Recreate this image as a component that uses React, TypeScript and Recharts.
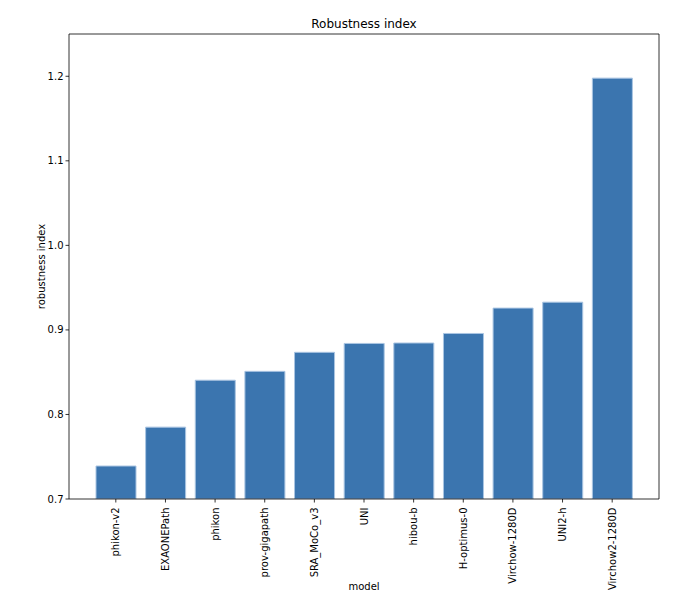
import React from "react";
import { BarChart, Bar, XAxis, YAxis, CartesianGrid } from "recharts";

const models = [
  "phikon-v2",
  "EXAONEPath",
  "phikon",
  "prov-gigapath",
  "SRA_MoCo_v3",
  "UNI",
  "hibou-b",
  "H-optimus-0",
  "Virchow-1280D",
  "UNI2-h",
  "Virchow2-1280D",
];

const robustness = [0.739, 0.785, 0.8405, 0.851, 0.8735, 0.884, 0.8845, 0.8958, 0.9258, 0.9328, 1.1978];

const yTicks = [0.7, 0.8, 0.9, 1.0, 1.1, 1.2];

const data = models.map((model, i) => ({ model, value: robustness[i] }));

const FONT = "'DejaVu Sans', sans-serif";

function RotatedTick(props: any) {
  const { x, y, payload } = props;
  return (
    <text
      x={0}
      y={0}
      dy="0.35em"
      transform={`translate(${x},${y + 3}) rotate(-90)`}
      textAnchor="end"
      fontSize={10}
      fontFamily={FONT}
      fill="#000"
    >
      {payload.value}
    </text>
  );
}

export default function App() {
  return (
    <div style={{ position: "absolute", left: 0, top: 0, width: 682, height: 614, background: "#fff" }}>
      <div
        style={{
          position: "absolute",
          left: 69,
          width: 590,
          top: 17,
          textAlign: "center",
          fontFamily: FONT,
          fontSize: 12,
          lineHeight: "14px",
          color: "#000",
        }}
      >
        Robustness index
      </div>
      <BarChart
        width={682}
        height={614}
        data={data}
        margin={{ top: 34, right: 23, bottom: 20, left: 29 }}
      >
        {/* closes the box on the top and right, like a matplotlib frame */}
        <CartesianGrid
          stroke="#000"
          strokeWidth={0.8}
          horizontalCoordinatesGenerator={({ offset }: any) => [offset.top]}
          verticalCoordinatesGenerator={({ offset }: any) => [offset.left + offset.width]}
        />
        <XAxis
          dataKey="model"
          interval={0}
          padding={{ left: 22, right: 22 }}
          height={95}
          tick={<RotatedTick />}
          tickSize={3.5}
          tickLine={{ stroke: "#000", strokeWidth: 0.8 }}
          axisLine={{ stroke: "#000", strokeWidth: 0.8 }}
          label={{
            value: "model",
            position: "insideBottom",
            offset: 4,
            fontSize: 10,
            fontFamily: FONT,
            fill: "#000",
          }}
        />
        <YAxis
          domain={[0.7, 1.25]}
          ticks={yTicks}
          allowDataOverflow
          width={40}
          tickFormatter={(v: number) => v.toFixed(1)}
          tick={{ fontSize: 10, fontFamily: FONT, fill: "#000" }}
          tickSize={3.5}
          tickLine={{ stroke: "#000", strokeWidth: 0.8 }}
          axisLine={{ stroke: "#000", strokeWidth: 0.8 }}
          label={{
            value: "robustness index",
            angle: -90,
            position: "insideLeft",
            offset: 12,
            style: { textAnchor: "middle" },
            fontSize: 10,
            fontFamily: FONT,
            fill: "#000",
          }}
        />
        <Bar
          dataKey="value"
          barSize={40}
          fill="#3b75af"
          stroke="#aac5e2"
          strokeWidth={1}
          isAnimationActive={false}
        />
      </BarChart>
    </div>
  );
}
